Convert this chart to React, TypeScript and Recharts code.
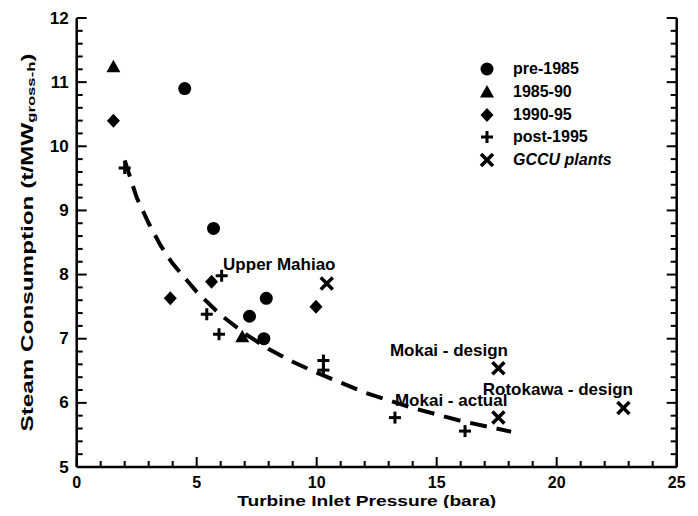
import {
  ComposedChart, Scatter, XAxis, YAxis, Legend,
} from 'recharts';

const FONT = '"Liberation Sans", Arial, sans-serif';

// plant data: [pressure (bara), steam use (t/MWh)]
const pre1985 = [
  { x: 4.5, y: 10.9 }, { x: 5.7, y: 8.72 }, { x: 7.2, y: 7.35 },
  { x: 7.9, y: 7.63 }, { x: 7.8, y: 7.0 },
];
const y1985to90 = [{ x: 1.53, y: 11.24 }, { x: 6.9, y: 7.03 }];
const y1990to95 = [
  { x: 1.53, y: 10.4 }, { x: 3.9, y: 7.63 }, { x: 5.62, y: 7.89 }, { x: 9.97, y: 7.5 },
];
const post1995 = [
  { x: 2.0, y: 9.66 }, { x: 6.04, y: 7.98 }, { x: 5.42, y: 7.38 }, { x: 5.93, y: 7.07 },
  { x: 10.28, y: 6.66 }, { x: 10.28, y: 6.51 }, { x: 13.26, y: 5.77 }, { x: 16.18, y: 5.56 },
];
const gccu = [
  { x: 10.42, y: 7.86 }, { x: 17.57, y: 6.54 }, { x: 17.57, y: 5.77 }, { x: 22.78, y: 5.92 },
];

// dashed trend curve, points read along the dashes
const trend = [
  { x: 2.0, y: 9.78 }, { x: 2.5, y: 9.2 }, { x: 3.0, y: 8.8 }, { x: 3.5, y: 8.45 },
  { x: 4.0, y: 8.17 }, { x: 5.0, y: 7.73 }, { x: 6.0, y: 7.37 }, { x: 7.0, y: 7.08 },
  { x: 8.0, y: 6.84 }, { x: 9.0, y: 6.64 }, { x: 10.0, y: 6.47 }, { x: 12.0, y: 6.16 },
  { x: 14.0, y: 5.92 }, { x: 16.0, y: 5.72 }, { x: 18.1, y: 5.55 },
];

const notes = [
  { x: 6.1, y: 8.15, text: 'Upper Mahiao' },
  { x: 13.05, y: 6.82, text: 'Mokai - design' },
  { x: 13.26, y: 6.04, text: 'Mokai - actual' },
  { x: 16.92, y: 6.21, text: 'Rotokawa - design' },
];

const xTicks = Array.from({ length: 26 }, (_, i) => i);
const yTicks = Array.from({ length: 36 }, (_, i) => Math.round((5 + i * 0.2) * 10) / 10);

const isMajorX = (v: number) => v % 5 === 0;
const isMajorY = (v: number) => Math.abs(v - Math.round(v)) < 1e-6;

type Kind = 'circle' | 'triangle' | 'diamond' | 'plus' | 'cross';

function Marker({ kind, cx, cy }: { kind: Kind; cx: number; cy: number }) {
  if (kind === 'circle') return <circle cx={cx} cy={cy} r={6.5} fill="#000" />;
  if (kind === 'triangle') {
    return <polygon points={`${cx},${cy - 7} ${cx - 7},${cy + 5.5} ${cx + 7},${cy + 5.5}`} fill="#000" />;
  }
  if (kind === 'diamond') {
    return <polygon points={`${cx},${cy - 7} ${cx + 6.5},${cy} ${cx},${cy + 7} ${cx - 6.5},${cy}`} fill="#000" />;
  }
  if (kind === 'plus') {
    return (
      <g stroke="#000" strokeWidth={3}>
        <line x1={cx - 6} x2={cx + 6} y1={cy} y2={cy} />
        <line x1={cx} x2={cx} y1={cy - 6} y2={cy + 6} />
      </g>
    );
  }
  return (
    <g stroke="#000" strokeWidth={3.5}>
      <line x1={cx - 6} x2={cx + 6} y1={cy - 6} y2={cy + 6} />
      <line x1={cx - 6} x2={cx + 6} y1={cy + 6} y2={cy - 6} />
    </g>
  );
}

const shapeOf = (kind: Kind) => (p: any) => <Marker kind={kind} cx={p.cx} cy={p.cy} />;

const SERIES: { name: string; kind: Kind; data: { x: number; y: number }[]; italic?: boolean }[] = [
  { name: 'pre-1985', kind: 'circle', data: pre1985 },
  { name: '1985-90', kind: 'triangle', data: y1985to90 },
  { name: '1990-95', kind: 'diamond', data: y1990to95 },
  { name: 'post-1995', kind: 'plus', data: post1995 },
  { name: 'GCCU plants', kind: 'cross', data: gccu, italic: true },
];

function BottomTick({ x, y, payload }: any) {
  const v = payload.value;
  const major = isMajorX(v);
  return (
    <g>
      <line x1={x} x2={x} y1={y} y2={y - (major ? 10 : 6)} stroke="#000" strokeWidth={2} />
      {major && (
        <text x={x} y={y + 15} textAnchor="middle" dominantBaseline="central"
          fontFamily={FONT} fontWeight="bold" fontSize={16} fill="#000">{v}</text>
      )}
    </g>
  );
}

function TopTick({ x, y, payload }: any) {
  const major = isMajorX(payload.value);
  return <line x1={x} x2={x} y1={y} y2={y + (major ? 10 : 6)} stroke="#000" strokeWidth={2} />;
}

function LeftTick({ x, y, payload }: any) {
  const v = payload.value;
  const major = isMajorY(v);
  return (
    <g>
      <line x1={x} x2={x + (major ? 10 : 6)} y1={y} y2={y} stroke="#000" strokeWidth={2} />
      {major && (
        <text x={x - 8} y={y} textAnchor="end" dominantBaseline="central"
          fontFamily={FONT} fontWeight="bold" fontSize={17} fill="#000">{Math.round(v)}</text>
      )}
    </g>
  );
}

function RightTick({ x, y, payload }: any) {
  const major = isMajorY(payload.value);
  return <line x1={x} x2={x - (major ? 10 : 6)} y1={y} y2={y} stroke="#000" strokeWidth={2} />;
}

function LegendBox() {
  return (
    <div style={{ fontFamily: FONT, fontSize: 16, fontWeight: 'bold', color: '#000' }}>
      {SERIES.map((s) => (
        <div key={s.name} style={{ display: 'flex', alignItems: 'center', height: 22.7 }}>
          <svg width={16} height={16} style={{ flex: 'none' }}>
            <Marker kind={s.kind} cx={8} cy={8} />
          </svg>
          <span style={{ marginLeft: 18, fontStyle: s.italic ? 'italic' : 'normal', whiteSpace: 'nowrap' }}>{s.name}</span>
        </div>
      ))}
    </div>
  );
}

export default function App() {
  return (
    <ComposedChart width={690} height={500} margin={{ top: 10, right: 0, bottom: 0, left: 0 }}>
      <XAxis xAxisId="b" type="number" dataKey="x" domain={[0, 25]} ticks={xTicks} interval={0}
        height={41} tickSize={0} tickMargin={0} tick={BottomTick}
        axisLine={{ stroke: '#000', strokeWidth: 2.5 }} allowDataOverflow
        label={({ viewBox }: any) => (
          <text x={viewBox.x + viewBox.width / 2 - 10} y={viewBox.y + 33} textAnchor="middle"
            dominantBaseline="central" fontFamily={FONT} fontWeight="bold" fontSize={15} fill="#000"
            textLength={259} lengthAdjust="spacingAndGlyphs">
            Turbine Inlet Pressure (bara)
          </text>
        )} />
      <XAxis xAxisId="t" orientation="top" type="number" domain={[0, 25]} ticks={xTicks} interval={0}
        height={0} tickSize={0} tickMargin={0} tick={TopTick}
        axisLine={{ stroke: '#000', strokeWidth: 2.5 }} allowDataOverflow />
      <YAxis yAxisId="l" type="number" dataKey="y" domain={[5, 12]} ticks={yTicks} interval={0}
        width={68.7} tickSize={0} tickMargin={0} tick={LeftTick}
        axisLine={{ stroke: '#000', strokeWidth: 2.5 }} allowDataOverflow
        label={({ viewBox }: any) => {
          const cx = viewBox.x + 19;
          const cy = viewBox.y + viewBox.height / 2;
          return (
            <text x={cx} y={cy} transform={`rotate(-90 ${cx} ${cy})`} textAnchor="middle"
              dominantBaseline="central" fontFamily={FONT} fontWeight="bold" fontSize={16} fill="#000"
              textLength={378} lengthAdjust="spacingAndGlyphs">
              Steam Consumption (t/MW<tspan fontSize={11} dy={4}>gross-h</tspan><tspan dy={-4}>)</tspan>
            </text>
          );
        }} />
      <YAxis yAxisId="r" orientation="right" type="number" domain={[5, 12]} ticks={yTicks} interval={0}
        width={21.3} tickSize={0} tickMargin={0} tick={RightTick}
        axisLine={{ stroke: '#000', strokeWidth: 2.5 }} allowDataOverflow />
      <Legend layout="vertical" align="center" verticalAlign="middle" content={() => <LegendBox />}
        wrapperStyle={{ position: 'absolute', left: 471, top: 50, width: 190 }} />
      <Scatter xAxisId="b" yAxisId="l" data={trend} line={{ stroke: '#000', strokeWidth: 4, strokeDasharray: '17 10' }}
        lineType="joint" shape={() => <g />} legendType="none" isAnimationActive={false} />
      {SERIES.map((s) => (
        <Scatter key={s.name} name={s.name} xAxisId="b" yAxisId="l" data={s.data}
          shape={shapeOf(s.kind)} isAnimationActive={false} />
      ))}
      <Scatter xAxisId="b" yAxisId="l" data={notes} legendType="none" isAnimationActive={false}
        shape={(p: any) => (
          <text x={p.cx} y={p.cy} textAnchor="start" dominantBaseline="central"
            fontFamily={FONT} fontWeight="bold" fontSize={17} fill="#000">{p.payload.text}</text>
        )} />
    </ComposedChart>
  );
}
